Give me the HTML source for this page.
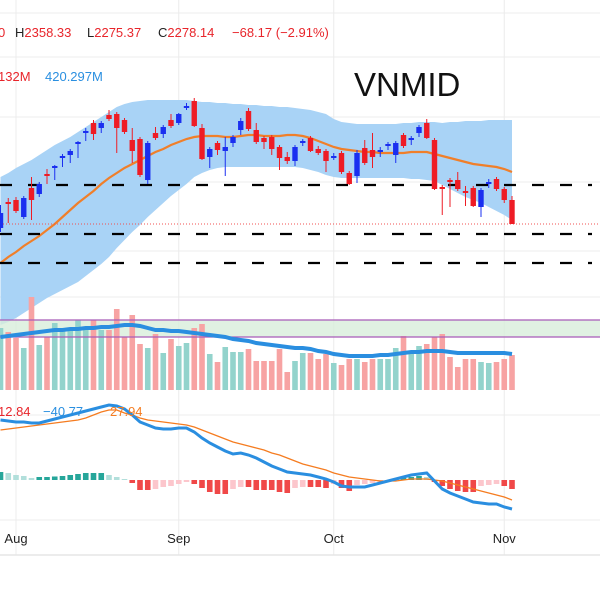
<!DOCTYPE html>
<html><head><meta charset="utf-8"><style>
html,body{margin:0;padding:0;background:#fff;width:600px;height:600px;overflow:hidden}
svg{display:block;font-family:"Liberation Sans",sans-serif}
</style></head><body>
<svg id="chart" width="600" height="600" viewBox="0 0 600 600">
<g id="grid"></g>
<g id="bands"></g>
<g id="levels"></g>
<g id="candles"></g>
<g id="volume"></g>
<g id="macd"></g>
<g id="axis"></g>
<g font-size="13">
<text x="-2" y="37" fill="#e8252b">0</text>
<text x="15" y="37" fill="#222">H<tspan fill="#e8252b">2358.33</tspan></text>
<text x="87" y="37" fill="#222">L<tspan fill="#e8252b">2275.37</tspan></text>
<text x="158" y="37" fill="#222">C<tspan fill="#e8252b">2278.14</tspan></text>
<text x="232" y="37" fill="#e8252b">−68.17 (−2.91%)</text>
<text x="-2" y="81" fill="#e8252b">132M</text>
<text x="45" y="81" fill="#2a8fe0">420.297M</text>
</g>
<text x="354" y="96" font-size="33" fill="#111">VNMID</text>
<g font-size="13">
<text x="-2" y="416" fill="#e8252b">12.84</text>
<text x="43" y="416" fill="#2a8fe0">−40.77</text>
<text x="110" y="416" fill="#f57c20">27.94</text>
</g>
</svg>
<script>
const opens=[2266,2344,2350,2299,2386,2368,2428,2446,2476,2485,2518,2551,2581,2566,2605,2608,2590,2530,2533,2410,2551,2548,2590,2581,2626,2647,2566,2479,2521,2497,2521,2560,2617,2560,2536,2539,2509,2479,2467,2521,2536,2503,2497,2476,2491,2431,2422,2506,2500,2494,2512,2485,2545,2530,2551,2581,2530,2389,2410,2410,2377,2386,2329,2398,2413,2383,2350];
const closes=[2311,2338,2317,2356,2350,2398,2422,2452,2482,2497,2524,2557,2548,2581,2593,2566,2554,2497,2425,2521,2536,2569,2572,2608,2632,2572,2473,2503,2500,2509,2539,2587,2563,2524,2524,2503,2476,2467,2509,2527,2497,2491,2467,2482,2434,2398,2491,2461,2479,2500,2518,2521,2512,2536,2569,2536,2383,2383,2404,2383,2371,2332,2380,2404,2383,2350,2278];
const highs=[2335,2356,2359,2362,2419,2404,2443,2455,2488,2503,2527,2566,2590,2587,2620,2614,2596,2566,2539,2527,2569,2575,2608,2611,2641,2656,2578,2509,2527,2539,2545,2596,2626,2581,2542,2545,2515,2494,2515,2533,2542,2512,2503,2491,2497,2437,2500,2530,2551,2509,2524,2527,2551,2542,2575,2593,2536,2395,2416,2434,2392,2392,2386,2413,2419,2389,2362];
const lows=[2254,2281,2311,2293,2290,2359,2398,2410,2449,2461,2476,2527,2530,2551,2587,2491,2548,2461,2419,2398,2530,2536,2566,2575,2620,2569,2470,2446,2485,2422,2509,2545,2557,2518,2503,2485,2440,2458,2452,2512,2494,2485,2434,2470,2428,2395,2401,2455,2446,2479,2500,2461,2506,2515,2539,2533,2380,2305,2329,2377,2332,2329,2299,2386,2377,2341,2278];
const bbMid=[2161,2179,2194,2212,2227,2242,2260,2278,2299,2320,2341,2359,2377,2398,2416,2431,2446,2458,2470,2482,2494,2503,2515,2524,2533,2539,2542,2542,2542,2539,2539,2542,2545,2545,2542,2542,2542,2545,2545,2542,2536,2527,2518,2509,2503,2500,2497,2494,2494,2491,2491,2491,2491,2494,2494,2494,2488,2482,2476,2470,2464,2458,2455,2452,2449,2443,2434];
const bbUpper=[2419,2431,2446,2458,2470,2485,2500,2515,2527,2539,2554,2569,2584,2599,2614,2629,2638,2644,2647,2650,2650,2650,2650,2650,2650,2647,2644,2644,2641,2641,2638,2638,2635,2635,2632,2632,2629,2629,2626,2623,2620,2614,2608,2593,2584,2581,2578,2578,2578,2578,2578,2578,2581,2581,2584,2584,2584,2581,2584,2584,2587,2587,2587,2590,2590,2590,2590];
const bbLower=[1975,1984,1996,2011,2026,2041,2056,2068,2080,2092,2104,2122,2140,2158,2179,2206,2230,2254,2275,2299,2320,2341,2362,2380,2398,2419,2431,2440,2446,2449,2449,2449,2449,2449,2449,2449,2449,2449,2449,2446,2440,2434,2425,2419,2416,2416,2416,2416,2416,2416,2416,2416,2416,2413,2413,2410,2407,2395,2383,2371,2359,2350,2341,2329,2317,2305,2290];
const levels=[2395,2248,2161];
const lastClose=2278;
const volumes=[620,580,520,420,930,450,530,670,600,600,700,600,700,600,600,810,530,750,460,420,560,370,510,440,470,620,660,360,280,430,380,380,410,290,290,290,410,180,290,370,370,310,360,270,250,310,310,280,310,310,310,420,540,380,440,460,530,560,330,230,310,310,280,270,280,310,350];
const volMA=[530,540,550,560,570,580,590,600,600,610,610,620,620,630,630,640,650,650,640,620,600,600,590,590,580,570,560,550,540,530,510,500,490,470,460,450,440,430,420,420,410,390,380,360,350,340,340,340,340,350,350,360,370,380,380,390,390,390,380,370,370,370,370,370,370,370,360];
const macdLine=[84,82.6,81.2,81.2,79.8,79.8,82.6,85.4,88.2,91,93.8,96.6,99.4,102.2,105,103.6,99.4,91,81.2,77,72.8,71.4,71.4,72.8,72.8,67.2,58.8,51.8,46.2,40.6,36.4,37.8,35,30.8,25.2,19.6,15.4,11.2,9.8,8.4,7,4.2,1.4,-2.8,-8.4,-9.8,-9.8,-9.8,-7,-4.2,-1.4,1.4,4.2,7,8.4,9.8,-1.4,-12.6,-18.2,-22.4,-26.6,-30.8,-32.2,-33.6,-33.6,-37.8,-40.6];
const signalLine=[70,71.4,72.8,74.2,75.6,77,78.4,79.8,81.2,82.6,84,86.8,91,95.2,98,98,93.8,91,86.8,84,82.6,81.2,79.8,78.4,77,74.2,70,65.8,61.6,57.4,53.2,50.4,47.6,44.8,42,37.8,35,30.8,26.6,22.4,19.6,16.8,14,9.8,7,4.2,2.8,1.4,0,-1.4,-1.4,-1.4,0,1.4,1.4,1.4,0,-1.4,-4.2,-7,-9.8,-12.6,-15.4,-18.2,-21,-23.8,-28];
const histogram=[11.2,9.8,7,5.6,2.8,4.2,4.2,4.9,5.6,7,8.4,9.8,9.8,9.8,7,4.2,1.4,-4.2,-14,-14,-12.6,-9.8,-8.4,-5.6,-2.8,-5.6,-11.2,-16.8,-19.6,-19.6,-12.6,-9.8,-9.8,-14,-14,-14,-16.8,-18.2,-11.2,-9.8,-9.8,-9.8,-11.2,-5.6,-11.2,-15.4,-7,-5.6,-4.2,-2.8,-1.4,1.4,2.8,4.2,5.6,4.2,-2.8,-8.4,-12.6,-15.4,-16.8,-16.8,-8.4,-7,-5.6,-8.4,-12.6];
const monthLabels=["Aug","Sep","Oct","Nov"];
const monthIndex=[2,23,43,65];

const NS="http://www.w3.org/2000/svg";
const xOf=i=>7.75*i+0.5;
const yP=p=>(2950-p)/3;
const yV=v=>390-v/10;
const yM=m=>480-m/1.4;
function mk(tag,attrs,parent){const e=document.createElementNS(NS,tag);for(const k in attrs)e.setAttribute(k,attrs[k]);parent.appendChild(e);return e;}
const G=id=>document.getElementById(id);

// grid
const grid=G('grid');
[13,57,117,182,251,297,415,520].forEach(y=>{const l=mk('line',{x1:0,x2:600,y1:y,y2:y,stroke:'#ececec','stroke-width':1},grid);

});
monthIndex.forEach(i=>{const l=mk('line',{x1:xOf(i),x2:xOf(i),y1:0,y2:555,stroke:'#ececec','stroke-width':1},grid);

});

// bands
const bands=G('bands');
let d='M'+bbUpper.map((v,i)=>xOf(i)+','+yP(v)).join('L')+'L'+bbLower.map((v,i)=>xOf(i)+','+yP(v)).reverse().join('L')+'Z';
const bf=mk('path',{d:d,fill:'#a9d3f6'},bands);


const ml=mk('path',{d:'M'+bbMid.map((v,i)=>xOf(i)+','+yP(v)).join('L'),fill:'none',stroke:'#f07f2a','stroke-width':2.2},bands);



// levels
const lv=G('levels');
levels.forEach(p=>{const l=mk('line',{x1:0,x2:592,y1:yP(p),y2:yP(p),stroke:'#000','stroke-width':2.2,'stroke-dasharray':'12 16'},lv);

});
const pl=mk('line',{x1:0,x2:600,y1:yP(lastClose),y2:yP(lastClose),stroke:'#f05050','stroke-width':1,'stroke-dasharray':'1 2'},lv);



// candles
const cg=G('candles');
opens.forEach((o,i)=>{const c=closes[i];const up=c>=o;const col=up?'#1a2ff0':'#ee1c25';const x=xOf(i);
const w=mk('line',{x1:x,x2:x,y1:yP(highs[i]),y2:yP(lows[i]),stroke:col,'stroke-width':1},cg);


const top=yP(Math.max(o,c)),bot=yP(Math.min(o,c));
const b=mk('rect',{x:x-2.7,y:top,width:5.4,height:Math.max(1.5,bot-top),fill:col},cg);

});

// volume
const vg=G('volume');
const zone=mk('rect',{x:0,y:320,width:600,height:17,fill:'#d8eedb',opacity:0.8},vg);


volumes.forEach((v,i)=>{const up=closes[i]>=opens[i];const r=mk('rect',{x:xOf(i)-2.8,y:yV(v),width:5.6,height:390-yV(v),fill:up?'#93d3cc':'#f7a3a3'},vg);

});
[320,337].forEach(y=>{const l=mk('line',{x1:0,x2:600,y1:y,y2:y,stroke:'#a85bb8','stroke-width':1.3},vg);

});
const vm=mk('path',{d:'M'+volMA.map((v,i)=>xOf(i)+','+yV(v)).join('L'),fill:'none',stroke:'#2a8ee0','stroke-width':4},vg);



// macd
const mg=G('macd');
histogram.forEach((h,i)=>{const prev=i>0?histogram[i-1]:h;let col;
if(h>=0)col=h>=prev?'#26a69a':'#b2dfdb';else col=h<=prev?'#f04848':'#fcc6cc';
const y0=yM(0),y1=yM(h);const r=mk('rect',{x:xOf(i)-2.8,y:Math.min(y0,y1),width:5.6,height:Math.max(0.8,Math.abs(y1-y0)),fill:col},mg);

});
const sl=mk('path',{d:'M'+signalLine.map((v,i)=>xOf(i)+','+yM(v)).join('L'),fill:'none',stroke:'#f57c20','stroke-width':1.3},mg);


const mc=mk('path',{d:'M'+macdLine.map((v,i)=>xOf(i)+','+yM(v)).join('L'),fill:'none',stroke:'#2a8ee0','stroke-width':3},mg);



// axis
const ax=G('axis');
const sep=mk('line',{x1:0,x2:600,y1:555,y2:555,stroke:'#e6e6e6','stroke-width':1.5},ax);


monthLabels.forEach((m,i)=>{const t=mk('text',{x:xOf(monthIndex[i]),y:543,'font-size':13,fill:'#222','text-anchor':'middle'},ax);t.textContent=m;

});
</script>
</body></html>
